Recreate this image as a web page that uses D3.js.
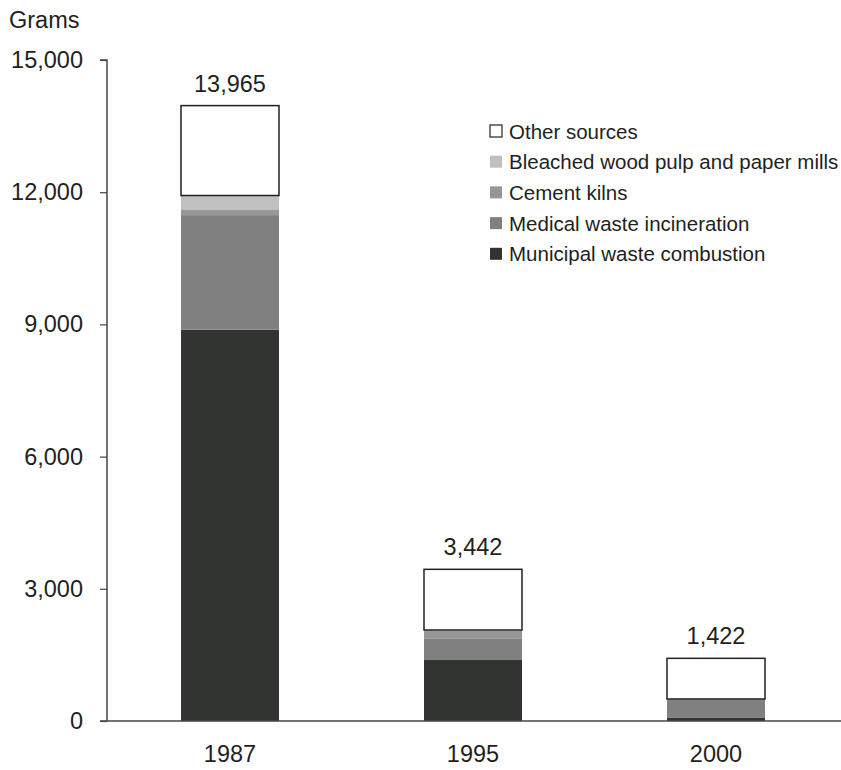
<!DOCTYPE html>
<html><head><meta charset="utf-8">
<script src="https://cdn.jsdelivr.net/npm/d3@7"></script>
<style>body{margin:0;background:#fff}svg{display:block}text{font-family:"Liberation Sans",Arial,sans-serif;fill:#231f20}</style>
</head><body><svg id="c" width="841" height="770"></svg>
<script>
const years = ["1987","1995","2000"];
const totals = [13965, 3442, 1422];
const municipal = [8880, 1385, 80];
const medical = [2600, 492, 400];
const cement = [115, 166, 20];
const bleached = [330, 22, 0];
const other = [2040, 1377, 922];
const seriesNames = ["Municipal waste combustion","Medical waste incineration","Cement kilns","Bleached wood pulp and paper mills","Other sources"];
const seriesColors = ["#323432","#808080","#969696","#c0c0c0","#ffffff"];
const yTicks = [0,3000,6000,9000,12000,15000];

const svg = d3.select("#c");
const y = d3.scaleLinear().domain([0,15000]).range([721,60]);
const x = d3.scaleBand().domain(years).range([107,839]).paddingInner(0.5967).paddingOuter(0.3045);

const rows = years.map((yr,i)=>({year:yr, s0:municipal[i], s1:medical[i], s2:cement[i], s3:bleached[i], s4:other[i]}));
const stack = d3.stack().keys(["s0","s1","s2","s3","s4"])(rows);

stack.forEach((layer,k)=>{
  svg.append("g").selectAll("rect").data(layer).join("rect")
    .attr("x",d=>x(d.data.year)).attr("width",x.bandwidth())
    .attr("y",d=>y(d[1])).attr("height",d=>Math.max(0,y(d[0])-y(d[1])))
    .attr("fill",seriesColors[k])
    .attr("stroke",k===4?"#231f20":"none").attr("stroke-width",1.5);
});

// total labels
svg.append("g").selectAll("text").data(years).join("text")
  .attr("x",d=>x(d)+x.bandwidth()/2).attr("y",(d,i)=>y(totals[i])-14)
  .attr("text-anchor","middle").attr("font-size",23.5)
  .text((d,i)=>d3.format(",")(totals[i]));

// y axis
const ya = svg.append("g").attr("transform","translate(107,0)")
  .call(d3.axisLeft(y).tickValues(yTicks).tickFormat(d3.format(",")).tickSize(7).tickPadding(17));
ya.select(".domain").attr("stroke","#444").attr("stroke-width",1.5).attr("d","M-7,"+y(15000)+"H0V"+y(0));
ya.selectAll(".tick line").attr("stroke","#444").attr("stroke-width",1.2);
ya.selectAll("text").attr("font-size",23.5).attr("fill","#231f20").attr("font-family","Liberation Sans, Arial, sans-serif");

// x axis baseline
svg.append("line").attr("x1",100).attr("x2",841).attr("y1",y(0)).attr("y2",y(0)).attr("stroke","#444").attr("stroke-width",1.5);
svg.append("g").selectAll("text").data(years).join("text")
  .attr("x",d=>x(d)+x.bandwidth()/2).attr("y",762).attr("text-anchor","middle").attr("font-size",23.5).text(d=>d);

svg.append("text").attr("x",9).attr("y",28).attr("font-size",23.5).text("Grams");

// legend
const legOrder = [4,3,2,1,0];
const lg = svg.append("g").selectAll("g").data(legOrder).join("g")
  .attr("transform",(d,i)=>`translate(490,${131+i*30.7})`);
lg.append("rect").attr("x",0).attr("y",-6).attr("width",12).attr("height",12)
  .attr("fill",d=>seriesColors[d]).attr("stroke",d=>d===4?"#231f20":"none").attr("stroke-width",1.2);
lg.append("text").attr("x",19).attr("y",7.5).attr("font-size",20.5).text(d=>seriesNames[d]);
</script></body></html>
